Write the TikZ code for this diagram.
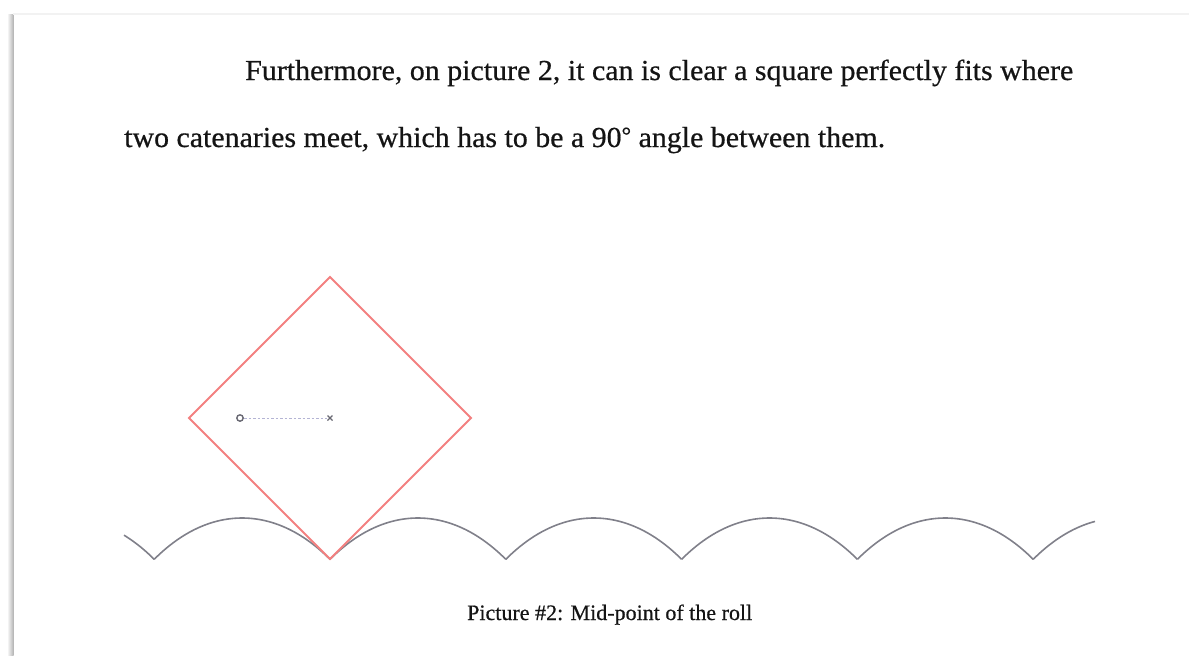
\documentclass[tikz,border=0pt]{standalone}
\usepackage{fontspec}
\setmainfont{Liberation Serif}
\newfontfamily\docfont{Liberation Serif}[BoldFont={Liberation Serif}, BoldFeatures={FakeBold=0.6}]
\newlength\fwlen
\newcommand\fitto[2]{\settowidth\fwlen{#2}\pgfmathsetmacro\fsx{#1/\fwlen}\scalebox{\fsx}[1]{#2}}
\definecolor{sqred}{RGB}{243,128,128}
\definecolor{catgray}{RGB}{128,128,138}
\definecolor{dotcol}{RGB}{180,180,212}
\definecolor{mkcol}{RGB}{105,105,115}
\tikzset{
  bodytext/.style={anchor=base west, inner sep=0pt, font=\docfont\bfseries\fontsize{29}{35}\selectfont, text=black!92},
  captext/.style={anchor=base west, inner sep=0pt, font=\docfont\bfseries\fontsize{22}{26}\selectfont, text=black!92},
  catenary/.style={catgray, line width=1.6pt, line join=round},
  squareline/.style={sqred, line width=1.8pt, line join=miter},
}
\begin{document}
\begin{tikzpicture}[x=1pt,y=-1pt]
\useasboundingbox (0,0) rectangle (1189,656);
% page shadow
\shade[left color=white, right color=gray!60] (7,14) rectangle (13.5,656);
\fill[gray!10] (13,12.5) rectangle (1189,14.5);
% text
\node[bodytext] (l1) at (245,80) {\fitto{828}{Furthermore, on picture 2, it can is clear a square perfectly fits where}};
\node[bodytext] (l2) at (124,147) {\fitto{761}{two catenaries meet, which has to be a 90\raisebox{0.3ex}{\scalebox{0.8}{°}} angle between them.}};
\node[captext] (cap) at (467,620) {\fitto{285}{Picture \#2: Mid-point of the roll}};
% catenary road
\def\ca{99.7}
\foreach \xc/\lo/\hi in {66.3/124/154.2, 242.1/154.2/330, 417.9/330/505.8, 593.7/505.8/681.6, 769.5/681.6/857.4, 945.3/857.4/1033.2, 1121.1/1033.2/1095}{
  \draw[catenary] plot[domain=\lo:\hi, samples=40, smooth] (\x, {518 + \ca*(cosh((\x-\xc)/\ca)-1)});
}
% square
\coordinate (top) at (330,277);
\coordinate (right) at (471,418);
\coordinate (bot) at (330,559);
\coordinate (left) at (189,418);
\draw[squareline] (top) -- (right) -- (bot) -- (left) -- cycle;
% markers
\coordinate (ctr) at (330,418);
\coordinate (pt) at (240,418);
\draw[dotcol, line width=1pt, dash pattern=on 2.5pt off 2pt] ([xshift=4pt]pt) -- ([xshift=-3pt]ctr);
\draw[mkcol, line width=1.4pt] (pt) circle (3.2);
\draw[mkcol, line width=1.2pt] ([shift={(-2.5,-2.5)}]ctr) -- ([shift={(2.5,2.5)}]ctr) ([shift={(-2.5,2.5)}]ctr) -- ([shift={(2.5,-2.5)}]ctr);
\end{tikzpicture}
\end{document}
